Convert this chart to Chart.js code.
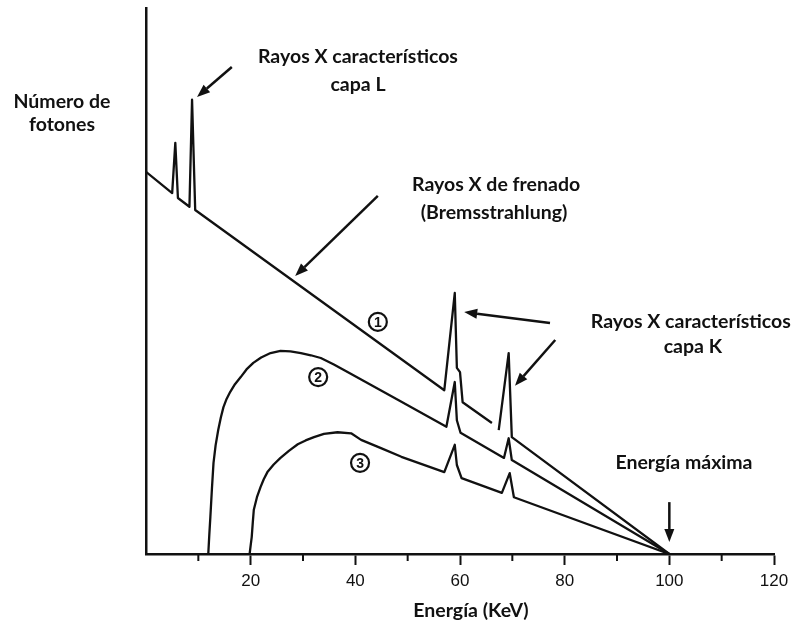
<!DOCTYPE html>
<html>
<head>
<meta charset="utf-8">
<script src="https://cdn.jsdelivr.net/npm/chart.js@4"></script>
<style>
  html, body { margin: 0; padding: 0; background: #fff; }
  #wrap { width: 796px; height: 624px; }
</style>
</head>
<body>
<div id="wrap"><canvas id="spectrum"></canvas></div>
<script>
// curve 1: unfiltered spectrum (with L and K lines)
const curve1Energy  = [0, 5.0, 5.6, 6.1, 8.3, 8.8, 9.4, 57.0, 59.0, 59.4, 60.0, 60.5, 66.1, 66.6, 67.4, 69.3, 69.9, 100];
const curve1Photons = [70.0, 66.1, 75.3, 65.2, 63.6, 83.2, 63.0, 30.0, 47.8, 34.1, 33.3, 27.8, 24.0, null, 22.7, 36.8, 21.4, 0];

// curve 2: filtered
const curve2Energy  = [11.9, 12.1, 12.3, 12.6, 12.9, 13.3, 13.8, 14.3, 14.8, 15.4, 16.1, 17.0, 18.1, 19.2, 20.5, 22.0, 23.8, 25.7, 27.6, 29.6, 31.5, 33.4, 35.9, 38.6, 48.2, 57.4, 59.0, 59.4, 60.1, 68.4, 69.3, 69.9, 100];
const curve2Photons = [0, 3.6, 6.8, 12.0, 16.7, 19.9, 22.7, 25.0, 26.9, 28.4, 29.7, 31.1, 32.4, 33.8, 35.0, 36.0, 36.8, 37.2, 37.1, 36.8, 36.4, 35.9, 34.7, 33.3, 28.2, 23.3, 31.5, 24.5, 22.2, 17.6, 21.2, 17.2, 0];

// curve 3: heavily filtered
const curve3Energy  = [19.8, 20.0, 20.2, 20.4, 20.6, 21.2, 21.9, 22.5, 23.2, 24.4, 25.7, 27.3, 29.0, 30.5, 32.1, 34.0, 36.6, 39.2, 41.1, 44.9, 48.8, 57.0, 59.0, 59.4, 60.3, 68.0, 69.5, 70.3, 100];
const curve3Photons = [0, 1.6, 3.1, 5.7, 8.1, 10.4, 12.3, 13.7, 15.0, 16.4, 17.6, 18.9, 20.1, 20.8, 21.4, 22.0, 22.3, 22.1, 20.9, 19.4, 17.8, 15.0, 20.0, 16.3, 13.9, 11.2, 14.8, 10.4, 0];

const INK = '#111';
const TEXT_FONT = 'bold 19.5px Lato';

function toPoints(energy, photons) {
  return energy.map((e, i) => ({ x: e, y: photons[i] }));
}

function curve(energy, photons) {
  return {
    data: toPoints(energy, photons),
    borderColor: INK,
    borderWidth: 2.3,
    borderJoinStyle: 'round',
    pointRadius: 0,
    fill: false,
    tension: 0
  };
}

function arrow(ctx, x1, y1, x2, y2) {
  const a = Math.atan2(y2 - y1, x2 - x1);
  const head = 13, half = 5;
  const bx = x2 - head * Math.cos(a), by = y2 - head * Math.sin(a);
  ctx.beginPath();
  ctx.moveTo(x1, y1);
  ctx.lineTo(bx, by);
  ctx.stroke();
  ctx.beginPath();
  ctx.moveTo(x2, y2);
  ctx.lineTo(bx + half * Math.sin(a), by - half * Math.cos(a));
  ctx.lineTo(bx - half * Math.sin(a), by + half * Math.cos(a));
  ctx.closePath();
  ctx.fill();
}

const annotations = {
  id: 'annotations',
  afterDraw(chart) {
    const { ctx, scales: { x, y } } = chart;
    const X = v => x.getPixelForValue(v);
    const Y = v => y.getPixelForValue(v);
    ctx.save();
    ctx.strokeStyle = INK;
    ctx.fillStyle = INK;

    // short ticks at the odd tens
    ctx.lineWidth = 2;
    x.ticks.forEach(t => {
      if (t.value % 20 !== 0) {
        ctx.beginPath();
        ctx.moveTo(X(t.value), Y(0));
        ctx.lineTo(X(t.value), Y(0) + 7);
        ctx.stroke();
      }
    });

    // labels
    ctx.font = TEXT_FONT;
    ctx.textAlign = 'center';
    ctx.textBaseline = 'middle';
    [
      ['Número de', -16.05, 82.8],
      ['fotones', -16.05, 78.6],
      ['Rayos X característicos', 40.5, 91.0],
      ['capa L', 40.5, 85.9],
      ['Rayos X de frenado', 66.9, 67.6],
      ['(Bremsstrahlung)', 66.5, 62.5],
      ['Rayos X característicos', 104.1, 42.5],
      ['capa K', 104.5, 37.9],
      ['Energía máxima', 102.8, 16.8],
      ['Energía (KeV)', 62.1, -10.3]
    ].forEach(([t, e, n]) => ctx.fillText(t, X(e), Y(n)));

    // arrows
    ctx.lineWidth = 2.5;
    [
      [16.4, 89.2, 9.75, 83.7],
      [44.3, 65.6, 28.5, 50.9],
      [77.2, 42.3, 60.8, 44.3],
      [78.2, 39.2, 70.5, 30.8],
      [100, 9.5, 100, 2.2]
    ].forEach(([e1, n1, e2, n2]) => arrow(ctx, X(e1), Y(n1), X(e2), Y(n2)));

    // circled curve numbers
    ctx.font = 'bold 14px "Liberation Sans"';
    [['1', 44.3, 42.5], ['2', 32.9, 32.4], ['3', 40.9, 16.7]].forEach(([d, e, n]) => {
      ctx.lineWidth = 2.2;
      ctx.beginPath();
      ctx.arc(X(e), Y(n), 9, 0, Math.PI * 2);
      ctx.stroke();
      ctx.fillText(d, X(e), Y(n) + 1);
    });
    ctx.restore();
  }
};

new Chart(document.getElementById('spectrum').getContext('2d'), {
  type: 'line',
  data: {
    datasets: [
      curve(curve1Energy, curve1Photons),
      curve(curve2Energy, curve2Photons),
      curve(curve3Energy, curve3Photons)
    ]
  },
  options: {
    responsive: true,
    maintainAspectRatio: false,
    animation: false,
    layout: { padding: { left: 146, right: 22, top: 8, bottom: 0 } },
    scales: {
      x: {
        type: 'linear',
        min: 0,
        max: 120,
        afterFit: s => { s.height = 70; },
        border: { color: INK, width: 2.5 },
        grid: {
          drawOnChartArea: false,
          tickLength: 11,
          tickWidth: 2,
          tickColor: c => (c.tick && c.tick.value > 0 && c.tick.value % 20 === 0) ? INK : 'rgba(0,0,0,0)'
        },
        ticks: {
          stepSize: 10,
          autoSkip: false,
          maxRotation: 0,
          padding: 6,
          color: INK,
          font: { family: 'Liberation Sans', size: 17 },
          callback: v => (v > 0 && v % 20 === 0) ? v : ''
        }
      },
      y: {
        min: 0,
        max: 100,
        afterFit: s => { s.width = 0; },
        border: { color: INK, width: 2.5 },
        grid: { display: false },
        ticks: { display: false }
      }
    },
    plugins: {
      legend: { display: false },
      tooltip: { enabled: false }
    }
  },
  plugins: [annotations]
});
</script>
</body>
</html>
